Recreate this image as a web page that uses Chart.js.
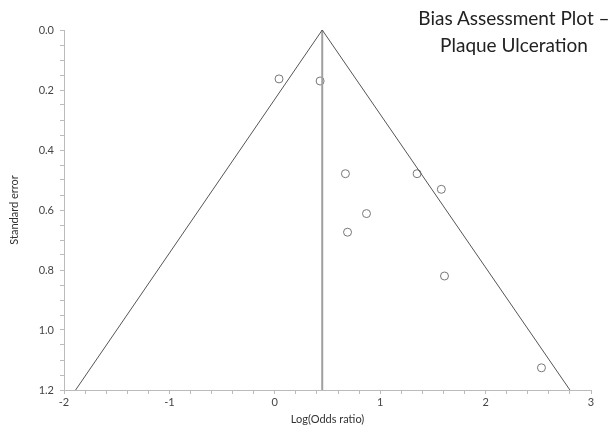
<!DOCTYPE html>
<html>
<head>
<meta charset="utf-8">
<script src="https://cdn.jsdelivr.net/npm/chart.js@4/dist/chart.umd.min.js"></script>
<style>
  html, body { margin: 0; padding: 0; background: #fff; }
  #wrap { position: relative; width: 616px; height: 426px; }
  #title {
    position: absolute; left: 414px; top: 4px; width: 200px;
    font-family: Lato, "Open Sans", sans-serif; font-size: 19px; line-height: 27px;
    text-align: center; color: #222; white-space: nowrap;
  }
</style>
</head>
<body>
<div id="wrap">
  <canvas id="c" width="616" height="426"></canvas>
  <div id="title">Bias Assessment Plot –<br>Plaque Ulceration</div>
</div>
<script>
// Study points: log odds ratio vs standard error
const logOddsRatio = [0.04, 0.43, 0.67, 1.35, 1.58, 0.87, 0.69, 1.61, 2.53];
const standardError = [0.163, 0.170, 0.479, 0.479, 0.531, 0.612, 0.674, 0.820, 1.126];

// Funnel (pseudo 95% limits) and pooled estimate line
const funnelX = [-1.89, 0.45, 2.80];
const funnelY = [1.2, 0.0, 1.2];
const pooledX = [0.45, 0.45];
const pooledY = [0.0, 1.2];

// Axes
const xMin = -2, xMax = 3, xMinorStep = 0.2;
const yMin = 0, yMax = 1.2, yMinorStep = 0.05, yLabelStep = 0.2;

const toPts = (xs, ys) => xs.map((x, i) => ({ x: x, y: ys[i] }));

const isMultiple = (v, step) => Math.abs(v / step - Math.round(v / step)) < 1e-6;

const FONT = 'Lato, "Open Sans", sans-serif';

new Chart(document.getElementById('c'), {
  type: 'scatter',
  data: {
    datasets: [
      {
        type: 'line',
        data: toPts(funnelX, funnelY),
        borderColor: '#555',
        borderWidth: 1,
        pointRadius: 0,
        fill: false,
        tension: 0
      },
      {
        type: 'line',
        data: toPts(pooledX, pooledY),
        borderColor: '#a0a0a0',
        borderWidth: 2,
        pointRadius: 0,
        fill: false
      },
      {
        data: toPts(logOddsRatio, standardError),
        pointStyle: 'circle',
        pointRadius: 4,
        borderWidth: 1,
        borderColor: '#777',
        backgroundColor: 'rgba(255,255,255,0)'
      }
    ]
  },
  options: {
    responsive: false,
    animation: false,
    layout: { padding: { top: 30, right: 25, left: 0, bottom: 0 } },
    plugins: { legend: { display: false }, tooltip: { enabled: false } },
    scales: {
      x: {
        type: 'linear',
        min: xMin, max: xMax,
        afterFit: s => { s.height = 36; },
        border: { color: '#bbb', width: 1 },
        grid: { drawOnChartArea: false, drawTicks: true, tickLength: 4, color: '#bbb' },
        ticks: {
          stepSize: xMinorStep,
          autoSkip: false,
          maxRotation: 0,
          padding: 2,
          color: '#444',
          font: { family: FONT, size: 11 },
          callback: v => isMultiple(v, 1) ? String(Math.round(v)) : ''
        },
        title: {
          display: true,
          text: 'Log(Odds ratio)',
          color: '#333',
          padding: { top: 1, bottom: 0 },
          font: { family: FONT, size: 11 }
        }
      },
      y: {
        type: 'linear',
        reverse: true,
        min: yMin, max: yMax,
        afterFit: s => { s.width = 64; },
        border: { color: '#bbb', width: 1 },
        grid: { drawOnChartArea: false, drawTicks: true, tickLength: 4, color: '#bbb' },
        ticks: {
          stepSize: yMinorStep,
          autoSkip: false,
          padding: 6,
          color: '#444',
          font: { family: FONT, size: 11 },
          callback: v => isMultiple(v, yLabelStep) ? v.toFixed(1) : ''
        },
        title: {
          display: true,
          text: 'Standard error',
          color: '#333',
          padding: { top: 8, bottom: 0 },
          font: { family: FONT, size: 11 }
        }
      }
    }
  }
});
</script>
</body>
</html>
